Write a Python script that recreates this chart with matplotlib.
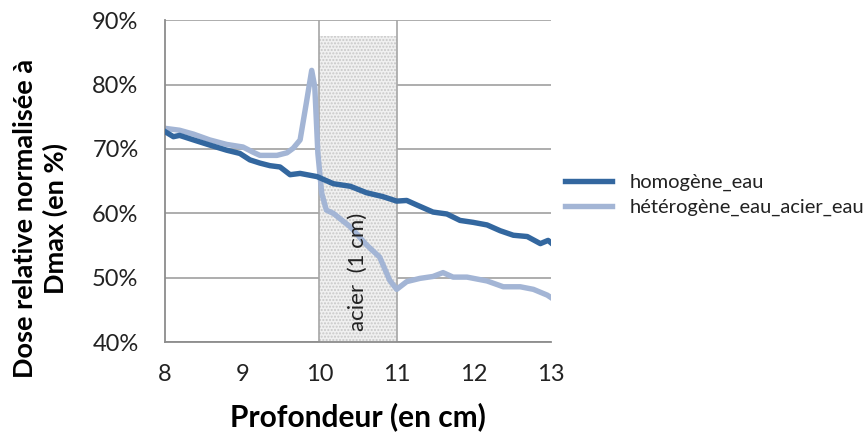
import matplotlib
matplotlib.use('Agg')
import matplotlib.pyplot as plt
from matplotlib.ticker import FuncFormatter

plt.rcParams['font.family'] = ['Lato', 'DejaVu Sans']

# --- données ---
depth_homo = [8.00, 8.11, 8.19, 8.37, 8.58, 8.80, 8.97, 9.10, 9.23, 9.36, 9.49, 9.62,
              9.75, 9.97, 10.18, 10.40, 10.61, 10.82, 11.00, 11.13, 11.26, 11.47,
              11.65, 11.82, 11.99, 12.17, 12.34, 12.51, 12.69, 12.86, 12.96, 13.00]
dose_homo = [72.7, 71.9, 72.1, 71.4, 70.6, 69.8, 69.3, 68.3, 67.8, 67.4, 67.2, 66.0,
             66.2, 65.7, 64.6, 64.2, 63.2, 62.6, 61.9, 62.0, 61.3, 60.2,
             59.9, 58.9, 58.6, 58.2, 57.3, 56.6, 56.4, 55.3, 55.8, 55.4]

depth_hetero = [8.00, 8.19, 8.37, 8.58, 8.80, 9.01, 9.14, 9.23, 9.45, 9.58, 9.66, 9.75,
                9.83, 9.90, 9.94, 9.98, 10.03, 10.09, 10.18, 10.40, 10.61, 10.78,
                10.91, 11.00, 11.13, 11.30, 11.47, 11.60, 11.73, 11.91, 12.17, 12.38,
                12.60, 12.77, 12.95, 13.00]
dose_hetero = [73.2, 72.9, 72.3, 71.4, 70.7, 70.3, 69.5, 69.0, 69.0, 69.4, 70.1, 71.4,
               77.1, 82.2, 79.6, 69.3, 63.1, 60.5, 60.0, 57.9, 55.1, 53.2,
               49.6, 48.2, 49.4, 49.9, 50.2, 50.8, 50.1, 50.1, 49.5, 48.6,
               48.6, 48.2, 47.3, 46.9]

steel_start, steel_end, steel_top = 10, 11, 87.5

fig = plt.figure(figsize=(8.68, 4.37), dpi=100)
ax = fig.add_axes([0.190, 0.217, 0.445, 0.737])

# zone acier
ax.fill_between([steel_start, steel_end], 40, steel_top, facecolor='#f0f0f0',
                edgecolor='#c8c8c8', hatch='.....', linewidth=0, zorder=1)
for xv in (steel_start, steel_end):
    ax.axvline(xv, color='#a6a6a6', lw=1.2, zorder=1.5)
ax.text(10.5, 50.9, 'acier  (1 cm)', rotation=90, ha='center', va='center',
        fontsize=16, color='#222222', zorder=4)

ax.plot(depth_homo, dose_homo, color='#33679f', lw=3.9, label='homogène_eau', zorder=3)
ax.plot(depth_hetero, dose_hetero, color='#a3b5d5', lw=3.9,
        label='hétérogène_eau_acier_eau', zorder=2.5)

ax.set_xlim(8, 13)
ax.set_ylim(40, 90)
ax.set_xticks(range(8, 14))
ax.set_yticks(range(40, 91, 10))
ax.yaxis.set_major_formatter(FuncFormatter(lambda v, p: f'{v:.0f}%'))
ax.grid(axis='y', color='#a0a0a0', lw=1.2)
ax.set_axisbelow(True)
ax.tick_params(length=0, labelsize=17, colors='#222222', pad=19)
ax.tick_params(axis='x', pad=16)
for s in ('top', 'right'):
    ax.spines[s].set_visible(False)
for s in ('left', 'bottom'):
    ax.spines[s].set_color('#8c8c8c')
    ax.spines[s].set_linewidth(1.3)

ax.set_xlabel('Profondeur (en cm)', fontsize=21.5, fontweight='bold', labelpad=12)
ax.set_ylabel('Dose relative normalisée à\nDmax (en %)', fontsize=19.5,
              fontweight='bold', linespacing=1.3)
ax.yaxis.set_label_coords(-0.25, 0.385)

ax.legend(loc='center left', bbox_to_anchor=(0.99, 0.457), frameon=False,
          fontsize=14.5, handlelength=2.3, handletextpad=0.9, labelspacing=0.35,
          labelcolor='#222222')

fig.savefig('out.png', dpi=100)
